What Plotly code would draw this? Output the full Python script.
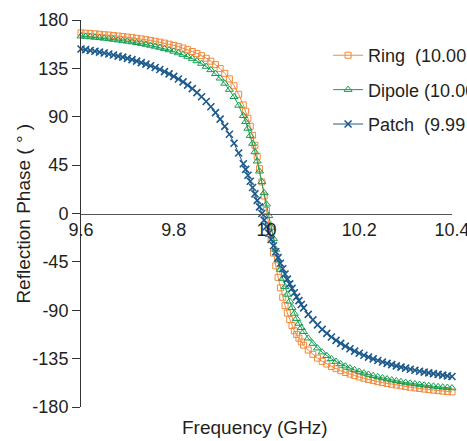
import plotly.graph_objects as go

# Frequency samples (GHz): finer spacing through the resonance
freq = [
    9.60, 9.61, 9.62, 9.63, 9.64, 9.65, 9.66, 9.67, 9.68, 9.69,
    9.70, 9.71, 9.72, 9.73, 9.74, 9.75, 9.76, 9.77, 9.78, 9.79,
    9.80, 9.81, 9.82, 9.83, 9.84, 9.85, 9.86, 9.87, 9.88, 9.89,
    9.90, 9.91, 9.92, 9.93, 9.94, 9.95,
    9.955, 9.960, 9.965, 9.970, 9.975, 9.980, 9.985, 9.990, 9.995, 10.000,
    10.005, 10.010, 10.015, 10.020, 10.025, 10.030, 10.035, 10.040,
    10.045, 10.050, 10.055, 10.060, 10.065, 10.070, 10.075, 10.080,
    10.09, 10.10, 10.11, 10.12, 10.13, 10.14, 10.15, 10.16, 10.17, 10.18,
    10.19, 10.20, 10.21, 10.22, 10.23, 10.24, 10.25, 10.26, 10.27, 10.28,
    10.29, 10.30, 10.31, 10.32, 10.33, 10.34, 10.35, 10.36, 10.37, 10.38,
    10.39, 10.40,
]

# Reflection phase (degrees) of each unit cell
ring_phase = [
    168.0, 167.7, 167.4, 167.1, 166.7, 166.3, 166.0, 165.5, 165.1, 164.6,
    164.1, 163.6, 163.0, 162.4, 161.7, 161.0, 160.2, 159.4, 158.5, 157.5,
    156.4, 155.2, 153.9, 152.4, 150.7, 148.9, 146.8, 144.4, 141.7, 138.5,
    134.8, 130.4, 125.2, 118.8, 110.9, 101.0,
    95.2, 88.6, 81.1, 72.8, 63.5, 53.1, 41.7, 29.4, 16.3, 2.7,
    -10.9, -24.2, -36.8, -48.7, -59.4, -69.2, -77.9, -85.7,
    -92.6, -98.7, -104.2, -109.1, -112.5, -116.0, -119.5, -122.5,
    -127.0, -131.0, -134.5, -137.5, -140.0, -142.3, -144.3, -146.2, -147.9, -149.4,
    -150.8, -152.1, -153.3, -154.4, -155.4, -156.4, -157.3, -158.1, -158.9, -159.6,
    -160.3, -161.0, -161.6, -162.2, -162.8, -163.3, -163.8, -164.3, -164.8, -165.2,
    -165.6, -166.0,
]

dipole_phase = [
    165.0, 164.6, 164.2, 163.8, 163.4, 162.9, 162.4, 161.9, 161.3, 160.8,
    160.1, 159.5, 158.8, 158.0, 157.2, 156.3, 155.4, 154.4, 153.3, 152.1,
    150.8, 149.3, 147.8, 146.0, 144.1, 141.9, 139.5, 136.7, 133.6, 130.0,
    125.8, 121.0, 115.3, 108.6, 100.5, 90.9,
    85.3, 79.1, 72.4, 65.1, 57.2, 48.6, 39.3, 29.5, 19.2, 8.6,
    -2.2, -12.9, -23.4, -33.5, -43.1, -52.1, -60.5, -68.2,
    -75.3, -81.7, -87.6, -93.0, -97.8, -102.3, -106.3, -110.0,
    -116.0, -121.0, -125.3, -129.0, -132.3, -135.2, -137.7, -140.0, -142.0, -143.8,
    -145.5, -147.0, -148.4, -149.7, -150.9, -152.0, -153.0, -154.0, -154.9, -155.7,
    -156.5, -157.2, -157.9, -158.5, -159.1, -159.7, -160.2, -160.7, -161.2, -161.6,
    -162.0, -162.4,
]

patch_phase = [
    153.0, 152.4, 151.6, 150.9, 150.1, 149.3, 148.4, 147.4, 146.4, 145.4,
    144.3, 143.1, 141.8, 140.4, 139.0, 137.4, 135.8, 134.0, 132.0, 129.9,
    127.6, 125.1, 122.4, 119.4, 116.1, 112.5, 108.6, 104.2, 99.3, 93.9,
    87.8, 81.1, 73.7, 65.4, 56.3, 46.3,
    41.1, 35.6, 30.0, 24.2, 18.2, 12.2, 6.1, 0.0, -6.1, -12.2,
    -18.2, -24.2, -30.0, -35.6, -41.1, -46.3, -51.4, -56.3,
    -61.0, -65.4, -69.6, -73.7, -77.5, -81.1, -84.6, -87.8,
    -93.9, -99.0, -103.6, -107.8, -111.5, -114.9, -118.0, -120.8, -123.4, -125.8,
    -128.0, -130.0, -131.9, -133.6, -135.2, -136.7, -138.1, -139.4, -140.6, -141.8,
    -142.9, -143.9, -144.9, -145.8, -146.7, -147.5, -148.3, -149.0, -149.7, -150.4,
    -151.0, -151.6,
]

series_names = [
    "Ring\u00a0 (10.00 GHz)",
    "Dipole (10.00 GHz)",
    "Patch\u00a0 (9.99 GHz)",
]

x_ticks = [9.6, 9.8, 10.0, 10.2, 10.4]
x_tick_text = ["9.6", "9.8", "10", "10.2", "10.4"]
y_ticks = [-180, -135, -90, -45, 0, 45, 90, 135, 180]
y_tick_text = ["-180", "-135", "-90", "-45", "0", "45", "90", "135", "180"]

FONT = "Liberation Sans, Arial, Helvetica, sans-serif"
TEXT = "#231f20"

styles = [
    dict(color="#f08a3c", symbol="square-open", size=6, width=1.0),
    dict(color="#13a052", symbol="triangle-up-open", size=7, width=1.0),
    dict(color="#1d5a8c", symbol="x-thin-open", size=7, width=1.6),
]

fig = go.Figure()
for name, phase, st in zip(series_names, [ring_phase, dipole_phase, patch_phase], styles):
    fig.add_trace(go.Scatter(
        x=freq, y=phase, name=name, legendgroup=name,
        mode="lines+markers",
        line=dict(color=st["color"], width=1),
        marker=dict(symbol=st["symbol"], size=st["size"], color=st["color"],
                    line=dict(color=st["color"], width=st["width"])),
        cliponaxis=False,
    ))

fig.update_layout(
    width=467, height=441,
    margin=dict(l=81, r=15, t=20, b=34, autoexpand=False),
    paper_bgcolor="white", plot_bgcolor="white",
    font=dict(family=FONT, size=18, color=TEXT),
    showlegend=True,
    legend=dict(
        x=0.666, y=0.956, xanchor="left", yanchor="top",
        xref="paper", yref="paper",
        bgcolor="rgba(0,0,0,0)", borderwidth=0,
        font=dict(family=FONT, size=18, color=TEXT),
        tracegroupgap=8,
    ),
    xaxis=dict(
        range=[9.6, 10.4], tickvals=x_ticks, ticktext=x_tick_text,
        anchor="free", position=0.5,
        showline=True, linecolor="#555555", linewidth=1,
        ticks="", showgrid=False, zeroline=False,
        ticklabeloverflow="allow",
        tickfont=dict(family=FONT, size=18, color=TEXT),
    ),
    yaxis=dict(
        range=[-180, 180], tickvals=y_ticks, ticktext=y_tick_text,
        showline=True, linecolor="#333333", linewidth=1,
        ticks="outside", ticklen=8, tickcolor="#333333", tickwidth=1,
        showgrid=False, zeroline=False,
        tickfont=dict(family=FONT, size=18, color=TEXT),
    ),
    annotations=[
        dict(
            text="Frequency (GHz)", xref="paper", yref="paper",
            x=0.47, y=-0.054, xanchor="center", yanchor="middle", showarrow=False,
            font=dict(family=FONT, size=19, color=TEXT),
        ),
        dict(
            text="Reflection Phase ( ° )", xref="paper", yref="paper",
            x=-0.156, y=0.5, xanchor="center", yanchor="middle", showarrow=False,
            textangle=-90,
            font=dict(family=FONT, size=19, color=TEXT),
        ),
    ],
)

fig.write_html("out.html")
